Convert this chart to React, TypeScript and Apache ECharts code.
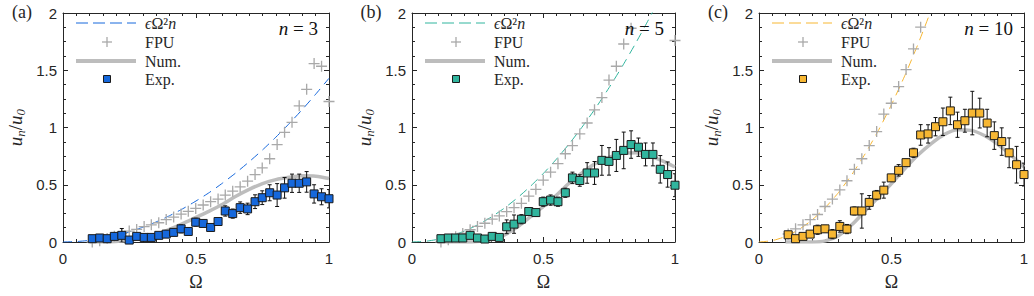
import React, { useEffect, useRef } from 'react';
import * as echarts from 'echarts';

// Ω grid of measurement points (shared by the three panels)
const omega = [0.110, 0.138, 0.166, 0.193, 0.221, 0.249, 0.277, 0.305, 0.332, 0.360, 0.388, 0.416, 0.444, 0.471, 0.499, 0.527, 0.555, 0.583, 0.610, 0.638, 0.666, 0.694, 0.722, 0.749, 0.777, 0.805, 0.833, 0.861, 0.888, 0.916, 0.944, 0.972, 1.000];

// Panel (a) n = 3
const expA = [0.029, 0.035, 0.029, 0.049, 0.058, 0.017, 0.049, 0.040, 0.040, 0.058, 0.069, 0.084, 0.115, 0.092, 0.173, 0.162, 0.127, 0.179, 0.271, 0.248, 0.300, 0.289, 0.352, 0.387, 0.430, 0.410, 0.473, 0.513, 0.513, 0.525, 0.420, 0.395, 0.378];
const errA = [0.015, 0.015, 0.015, 0.02, 0.06, 0.02, 0.02, 0.02, 0.02, 0.025, 0.03, 0.03, 0.035, 0.03, 0.035, 0.03, 0.03, 0.035, 0.045, 0.04, 0.05, 0.05, 0.06, 0.06, 0.07, 0.10, 0.09, 0.08, 0.08, 0.09, 0.08, 0.07, 0.08];
const fpuA = [0.000, 0.010, 0.030, 0.050, 0.075, 0.095, 0.110, 0.135, 0.150, 0.168, 0.196, 0.218, 0.244, 0.268, 0.293, 0.323, 0.352, 0.375, 0.410, 0.444, 0.482, 0.531, 0.589, 0.647, 0.727, 0.851, 0.958, 1.045, 1.189, 1.333, 1.558, 1.535, 1.227];

// Panel (b) n = 5
const expB = [0.029, 0.035, 0.035, 0.035, 0.058, 0.035, 0.026, 0.049, 0.040, 0.133, 0.156, 0.199, 0.266, 0.257, 0.352, 0.366, 0.352, 0.430, 0.560, 0.537, 0.603, 0.603, 0.713, 0.704, 0.756, 0.800, 0.851, 0.828, 0.765, 0.765, 0.635, 0.589, 0.496];
const errB = [0.015, 0.015, 0.015, 0.015, 0.02, 0.015, 0.015, 0.025, 0.02, 0.06, 0.08, 0.04, 0.03, 0.03, 0.04, 0.045, 0.04, 0.04, 0.05, 0.05, 0.09, 0.10, 0.13, 0.12, 0.14, 0.16, 0.12, 0.08, 0.10, 0.10, 0.12, 0.11, 0.10];
const fpuB = [0.000, 0.020, 0.045, 0.075, 0.107, 0.136, 0.164, 0.199, 0.228, 0.266, 0.300, 0.338, 0.400, 0.460, 0.540, 0.610, 0.684, 0.771, 0.842, 0.944, 1.039, 1.154, 1.261, 1.414, 1.535, 1.729, 1.867, null, null, null, null, null, 1.760];

// Panel (c) n = 10
const expC = [0.063, 0.029, 0.049, 0.069, 0.107, 0.115, 0.069, 0.136, 0.113, 0.271, 0.271, 0.346, 0.410, 0.453, 0.560, 0.626, 0.693, 0.779, 0.935, 0.944, 1.007, 1.050, 1.145, 1.024, 1.059, 1.126, 1.126, 1.039, 0.929, 0.877, 0.779, 0.675, 0.589];
const errC = [0.03, 0.02, 0.02, 0.02, 0.04, 0.03, 0.04, 0.05, 0.04, 0.035, 0.15, 0.06, 0.04, 0.07, 0.03, 0.05, 0.03, 0.04, 0.09, 0.08, 0.08, 0.12, 0.12, 0.11, 0.10, 0.19, 0.13, 0.12, 0.12, 0.12, 0.13, 0.16, 0.10];
const fpuC = [0.070, 0.115, 0.150, 0.195, 0.240, 0.310, 0.375, 0.455, 0.535, 0.635, 0.727, 0.842, 0.964, 1.117, 1.212, 1.357, 1.506, 1.686, 1.876, null, null, null, null, null, null, null, null, null, null, null, null, null, null];

// εΩ²n curves
const curveX = [0, 0.05, 0.1, 0.15, 0.2, 0.25, 0.3, 0.35, 0.4, 0.45, 0.5, 0.55, 0.6, 0.65, 0.7, 0.75, 0.8, 0.85, 0.9, 0.95, 1.0];
const theoryA = [0, 0.004, 0.014, 0.032, 0.057, 0.089, 0.129, 0.175, 0.229, 0.290, 0.358, 0.432, 0.515, 0.604, 0.701, 0.804, 0.915, 1.033, 1.158, 1.291, 1.430];
const theoryB = [0, 0.006, 0.024, 0.054, 0.096, 0.150, 0.216, 0.294, 0.384, 0.486, 0.600, 0.726, 0.864, 1.014, 1.176, 1.350, 1.536, 1.734, 1.944, 2.166, 2.400];
const theoryC = [0, 0.012, 0.048, 0.108, 0.192, 0.300, 0.432, 0.588, 0.768, 0.972, 1.200, 1.452, 1.728, 2.028, 2.352];

// Numerical curves
const numX = [0.1, 0.15, 0.2, 0.25, 0.3, 0.35, 0.4, 0.45, 0.5, 0.55, 0.6, 0.65, 0.7, 0.75, 0.8, 0.85, 0.9, 0.95, 1.0];
const numA = [0, 0, 0.005, 0.015, 0.035, 0.065, 0.110, 0.160, 0.215, 0.270, 0.330, 0.400, 0.460, 0.510, 0.545, 0.565, 0.578, 0.575, 0.555];
const numB = [0, 0, 0, 0.005, 0.020, 0.060, 0.130, 0.220, 0.310, 0.410, 0.520, 0.610, 0.690, 0.740, 0.775, 0.780, 0.755, 0.710, 0.655];
const numC = [0, 0, 0, 0.010, 0.055, 0.150, 0.270, 0.390, 0.510, 0.640, 0.760, 0.860, 0.940, 0.980, 0.975, 0.930, 0.855, 0.760, 0.655];

const xTicks = [0, 0.5, 1];
const yTicks = [0, 0.5, 1, 1.5, 2];
const panelLabels = ['(a)', '(b)', '(c)'];
const nValues = [3, 5, 10];
const colors = ['#1668dc', '#31b59e', '#f7b733'];

const panels = [
  { exp: expA, err: errA, fpu: fpuA, theory: theoryA, num: numA },
  { exp: expB, err: errB, fpu: fpuB, theory: theoryB, num: numB },
  { exp: expC, err: errC, fpu: fpuC, theory: theoryC, num: numC },
];

const gridBoxes = [
  { left: 63, width: 266 },
  { left: 412, width: 263 },
  { left: 759, width: 265 },
];
const TOP = 13;
const HEIGHT = 231;
const AX = '#262626';
const SERIF = '"Liberation Serif", "DejaVu Serif", serif';
const SANS = '"Liberation Sans", Arial, sans-serif';
const CROSS = 'path://M44,0 H56 V44 H100 V56 H56 V100 H44 V56 H0 V44 H44 Z';

function buildOption() {
  const grid: any[] = [];
  const xAxis: any[] = [];
  const yAxis: any[] = [];
  const series: any[] = [];
  const graphic: any[] = [];

  gridBoxes.forEach((g, i) => {
    grid.push({ left: g.left, top: TOP, width: g.width, height: HEIGHT, containLabel: false });
    const common = {
      gridIndex: i,
      type: 'value',
      axisLine: { show: true, onZero: false, lineStyle: { color: AX, width: 1 } },
      axisTick: { show: true, inside: true, length: 5, lineStyle: { color: AX, width: 1 } },
      minorTick: { show: true, length: 3, lineStyle: { color: AX, width: 1 } },
      splitLine: { show: false },
      minorSplitLine: { show: false },
    };
    xAxis.push({
      ...common,
      position: 'bottom',
      min: xTicks[0],
      max: xTicks[xTicks.length - 1],
      interval: 0.5,
      minorTick: { ...common.minorTick, splitNumber: 10 },
      axisLabel: { fontSize: 15, fontFamily: SANS, color: AX, margin: 9 },
      name: 'Ω',
      nameLocation: 'middle',
      nameGap: 31,
      nameTextStyle: { fontSize: 18, fontFamily: SERIF, color: AX },
    });
    xAxis.push({
      ...common,
      position: 'top',
      min: xTicks[0],
      max: xTicks[xTicks.length - 1],
      interval: 0.5,
      minorTick: { ...common.minorTick, splitNumber: 10 },
      axisLabel: { show: false },
    });
    yAxis.push({
      ...common,
      position: 'left',
      min: yTicks[0],
      max: yTicks[yTicks.length - 1],
      interval: 0.5,
      minorTick: { ...common.minorTick, splitNumber: 4 },
      axisLabel: { fontSize: 15, fontFamily: SANS, color: AX, margin: 6 },
      name: '{i|u}{s|n}{r|/}{i|u}{s|0}',
      nameLocation: 'middle',
      nameGap: 36,
      nameRotate: 90,
      nameTextStyle: {
        color: AX,
        fontFamily: SERIF,
        rich: {
          i: { fontSize: 19, fontStyle: 'italic', fontFamily: SERIF, color: AX, lineHeight: 24, verticalAlign: 'middle' },
          r: { fontSize: 19, fontFamily: SERIF, color: AX, lineHeight: 24, verticalAlign: 'middle' },
          s: { fontSize: 13, fontStyle: 'italic', fontFamily: SERIF, color: AX, lineHeight: 24, verticalAlign: 'middle', padding: [10, 0, 0, 0] },
        },
      },
    });
    yAxis.push({
      ...common,
      position: 'right',
      min: yTicks[0],
      max: yTicks[yTicks.length - 1],
      interval: 0.5,
      minorTick: { ...common.minorTick, splitNumber: 4 },
      axisLabel: { show: false },
    });

    const p = panels[i];
    const xi = i * 2;
    const yi = i * 2;
    const col = colors[i];

    series.push({
      type: 'line',
      xAxisIndex: xi,
      yAxisIndex: yi,
      data: numX.map((x, k) => [x, p.num[k]]),
      showSymbol: false,
      symbol: 'none',
      smooth: 0.3,
      lineStyle: { color: '#bdbdbd', width: 3.5 },
      z: 2,
      silent: true,
      clip: true,
    });
    series.push({
      type: 'line',
      xAxisIndex: xi,
      yAxisIndex: yi,
      data: curveX.slice(0, p.theory.length).map((x, k) => [x, p.theory[k]]),
      showSymbol: false,
      symbol: 'none',
      smooth: 0.2,
      lineStyle: { color: col, width: 1, type: [9, 6] },
      z: 3,
      silent: true,
      clip: true,
    });
    series.push({
      type: 'scatter',
      xAxisIndex: xi,
      yAxisIndex: yi,
      data: omega.map((x, k) => [x, p.fpu[k]]).filter((d) => d[1] !== null),
      symbol: CROSS,
      symbolSize: 11,
      itemStyle: { color: '#a9a9a9', opacity: 1 },
      z: 4,
      silent: true,
      clip: true,
    });
    series.push({
      type: 'custom',
      xAxisIndex: xi,
      yAxisIndex: yi,
      data: omega.map((x, k) => [x, p.exp[k], p.err[k]]),
      encode: { x: 0, y: 1 },
      clip: true,
      silent: true,
      z: 5,
      renderItem: (params: any, api: any) => {
        const x = api.value(0);
        const y = api.value(1);
        const e = api.value(2);
        const t = api.coord([x, y + e]);
        const b = api.coord([x, y - e]);
        const st = { stroke: '#111', lineWidth: 1 };
        return {
          type: 'group',
          children: [
            { type: 'line', shape: { x1: t[0], y1: t[1], x2: b[0], y2: b[1] }, style: st },
            { type: 'line', shape: { x1: t[0] - 2, y1: t[1], x2: t[0] + 2, y2: t[1] }, style: st },
            { type: 'line', shape: { x1: b[0] - 2, y1: b[1], x2: b[0] + 2, y2: b[1] }, style: st },
          ],
        };
      },
    });
    series.push({
      type: 'scatter',
      xAxisIndex: xi,
      yAxisIndex: yi,
      data: omega.map((x, k) => [x, p.exp[k]]),
      symbol: 'rect',
      symbolSize: 8,
      itemStyle: { color: col, borderColor: '#1a1a1a', borderWidth: 1, opacity: 1 },
      z: 6,
      silent: true,
    });

    // legend & annotations
    const L = g.left;
    const R = g.left + g.width;
    const lx1 = L + 13;
    const lx2 = L + 73;
    const mx = L + 44;
    const tx = L + 82;
    graphic.push(
      { type: 'line', shape: { x1: lx1, y1: 23, x2: lx2, y2: 23 }, style: { stroke: col, lineWidth: 1, lineDash: [12, 5] }, z: 10 },
      {
        type: 'text', x: tx, y: 23,
        style: {
          text: '{i|ϵ}Ω²{i|n}', verticalAlign: 'middle', align: 'left', fill: AX,
          font: `16px ${SERIF}`,
          rich: { i: { fontStyle: 'italic', fontSize: 16, fontFamily: SERIF, fill: AX } },
        }, z: 10,
      },
      { type: 'line', shape: { x1: mx - 5, y1: 42, x2: mx + 5, y2: 42 }, style: { stroke: '#a9a9a9', lineWidth: 1.3 }, z: 10 },
      { type: 'line', shape: { x1: mx, y1: 37, x2: mx, y2: 47 }, style: { stroke: '#a9a9a9', lineWidth: 1.3 }, z: 10 },
      { type: 'text', x: tx, y: 42, style: { text: 'FPU', verticalAlign: 'middle', align: 'left', fill: AX, font: `16px ${SERIF}` }, z: 10 },
      { type: 'line', shape: { x1: lx1, y1: 61, x2: lx2, y2: 61 }, style: { stroke: '#bdbdbd', lineWidth: 4 }, z: 10 },
      { type: 'text', x: tx, y: 61, style: { text: 'Num.', verticalAlign: 'middle', align: 'left', fill: AX, font: `16px ${SERIF}` }, z: 10 },
      { type: 'rect', shape: { x: mx - 3.5, y: 75.5, width: 7, height: 7 }, style: { fill: col, stroke: '#1a1a1a', lineWidth: 1 }, z: 10 },
      { type: 'text', x: tx, y: 79, style: { text: 'Exp.', verticalAlign: 'middle', align: 'left', fill: AX, font: `16px ${SERIF}` }, z: 10 },
      {
        type: 'text', x: R - 11, y: 28,
        style: {
          text: `{i|n} = ${nValues[i]}`, verticalAlign: 'middle', align: 'right', fill: '#111',
          font: `19px ${SERIF}`,
          rich: { i: { fontStyle: 'italic', fontSize: 19, fontFamily: SERIF, fill: '#111' } },
        }, z: 10,
      },
      { type: 'text', x: L - 41, y: 12, style: { text: panelLabels[i], verticalAlign: 'middle', align: 'center', fill: AX, font: `18px ${SERIF}` }, z: 10 },
    );
  });

  return { animation: false, backgroundColor: '#ffffff', grid, xAxis, yAxis, series, graphic };
}

export default function App() {
  const ref = useRef<HTMLDivElement>(null);
  useEffect(() => {
    if (!ref.current) return;
    const chart = echarts.init(ref.current, undefined, { renderer: 'svg' });
    chart.setOption(buildOption() as any);
    return () => chart.dispose();
  }, []);
  return (
    <div
      ref={ref}
      style={{ position: 'fixed', left: 0, top: 0, width: 1034, height: 296, background: '#fff' }}
    />
  );
}
